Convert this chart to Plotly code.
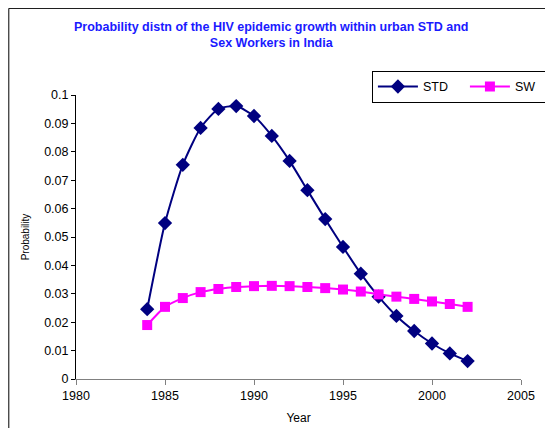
import plotly.graph_objects as go

# Datos
years = list(range(1984, 2003))
std_prob = [0.0246, 0.0549, 0.0754, 0.0884, 0.0951, 0.0961, 0.0926, 0.0856, 0.0768, 0.0665,
            0.0563, 0.0465, 0.0371, 0.0290, 0.0222, 0.0169, 0.0125, 0.0090, 0.0063]
sw_prob = [0.0190, 0.0254, 0.0285, 0.0306, 0.0317, 0.0324, 0.0327, 0.0328, 0.0327, 0.0324,
           0.0320, 0.0315, 0.0308, 0.0298, 0.0290, 0.0282, 0.0273, 0.0264, 0.0254]
x_ticks = [1980, 1985, 1990, 1995, 2000, 2005]

FONT = "Liberation Sans, Arial, sans-serif"

fig = go.Figure()
fig.add_trace(go.Scatter(
    x=years, y=std_prob, name="STD", mode="lines+markers",
    line=dict(color="#000080", width=2, shape="spline", smoothing=0.6),
    marker=dict(symbol="diamond", size=11, color="#000080"),
))
fig.add_trace(go.Scatter(
    x=years, y=sw_prob, name="SW", mode="lines+markers",
    line=dict(color="#FF00FF", width=2, shape="spline", smoothing=0.6),
    marker=dict(symbol="square", size=10, color="#FF00FF"),
))

# Marco exterior (solo se ven los bordes izquierdo y superior)
fig.add_shape(type="rect", xref="paper", yref="paper",
              x0=-0.151, x1=1.3, y0=-0.5, y1=1.305,
              line=dict(color="black", width=1), layer="above")

fig.update_layout(
    width=545, height=420,
    margin=dict(l=68, r=32, t=87, b=49, autoexpand=False),
    plot_bgcolor="white", paper_bgcolor="white",
    font=dict(family=FONT, size=12, color="black"),
    title=dict(
        text="<b>Probability distn of the HIV epidemic growth within urban STD and<br>Sex Workers in India</b>",
        font=dict(family=FONT, size=12.5, color="#1a1aff"),
        x=0.483, xanchor="center", xref="container",
        y=0.945, yanchor="top", yref="container",
    ),
    legend=dict(
        orientation="h", x=0.665, y=1.085, xanchor="left", yanchor="top",
        bordercolor="black", borderwidth=1, bgcolor="white",
        font=dict(family=FONT, size=12.5, color="black"),
        entrywidth=37, itemwidth=40,
    ),
    xaxis=dict(
        range=[1980, 2005], tickvals=x_ticks, showgrid=False, zeroline=False,
        showline=True, linecolor="#808080", linewidth=1,
        ticks="outside", ticklen=5, tickcolor="#808080",
        tickfont=dict(size=12.5),
        title=dict(text="Year", font=dict(family=FONT, size=12), standoff=11),
    ),
    yaxis=dict(
        range=[0, 0.1], dtick=0.01, showgrid=False, zeroline=False,
        showline=True, linecolor="black", linewidth=1,
        ticks="outside", ticklen=4, tickcolor="black",
        tickfont=dict(size=12.5),
        title=dict(text="Probability", font=dict(family=FONT, size=10), standoff=12),
    ),
)

fig.write_html("out.html")
